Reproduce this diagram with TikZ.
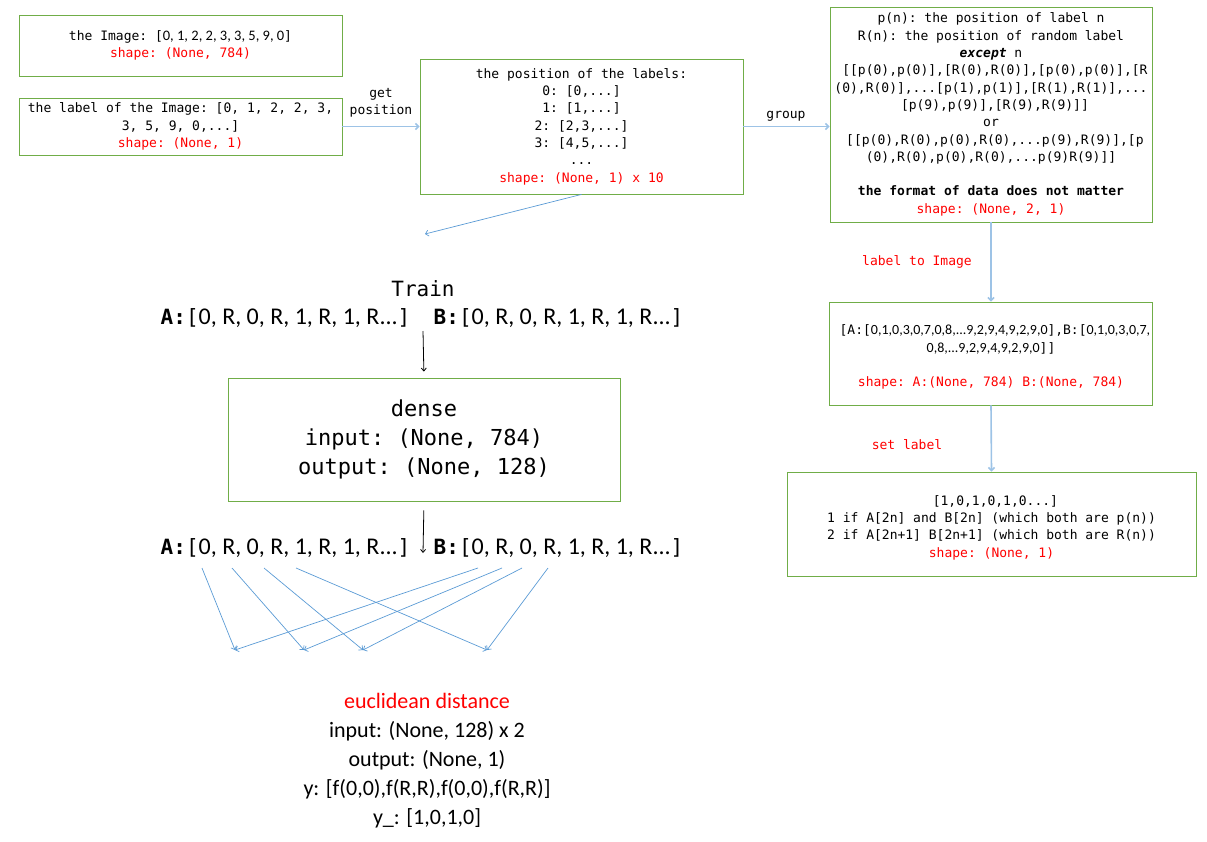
\documentclass[tikz,border=0pt]{standalone}
\usepackage{fontspec}
\setmonofont{DejaVu Sans Mono}
\newfontfamily\calfont{Carlito}
\usetikzlibrary{arrows.meta}
\definecolor{boxgreen}{HTML}{70AD47}
\definecolor{flowblue}{HTML}{9DC3E6}
\definecolor{linkblue}{HTML}{5B9BD5}
\definecolor{shapered}{HTML}{FF0000}
\newcommand{\shapeline}[1]{\textcolor{shapered}{shape: #1}}
\newcommand{\digits}[1]{{\calfont\fontsize{14.5}{17.3}\selectfont #1}}
\newcommand{\pairrow}[1]{{\ttfamily\bfseries\fontsize{21}{25}\selectfont #1:}{\ttfamily\fontsize{21}{25}\selectfont[}{\calfont\fontsize{24}{28}\selectfont 0, R, 0, R, 1, R, 1, R...}{\ttfamily\fontsize{21}{25}\selectfont]}}

\begin{document}
\begin{tikzpicture}[x=1pt, y=-1pt]
    % Define styles
    \tikzset{
        databox/.style={draw=boxgreen, line width=0.8pt, align=center, inner sep=2pt, font=\ttfamily\fontsize{13}{17.3}\selectfont},
        steplabel/.style={align=center, font=\ttfamily\fontsize{13}{17.3}\selectfont},
        flow/.style={-{Straight Barb[length=3pt, width=6pt]}, draw=flowblue, line width=1.6pt},
        link/.style={-{Straight Barb[length=3pt, width=6pt]}, draw=linkblue, line width=0.7pt},
        pass/.style={-{Straight Barb[length=3pt, width=5pt]}, draw=black, line width=0.8pt},
        row/.style={inner sep=0pt}
    }
    \useasboundingbox (0,0) rectangle (1207,841);

    % Input data
    \node[databox, minimum width=323pt, minimum height=61pt] (image) at (180.5,45.5)
        {the Image: [\digits{0, 1, 2, 2, 3, 3, 5, 9, 0}]\\ \shapeline{(None, 784)}};
    \node[databox, minimum width=323pt, minimum height=57pt] (label) at (180.5,126.5)
        {the label of the Image: [0, 1, 2, 2, 3,\\ 3, 5, 9, 0,...]\\ \shapeline{(None, 1)}};

    % Positions of the labels
    \node[databox, minimum width=323pt, minimum height=135pt] (position) at (581.5,126.5)
        {the position of the labels:\\ 0: [0,...]\\ 1: [1,...]\\ 2: [2,3,...]\\ 3: [4,5,...]\\ ...\\ \shapeline{(None, 1) x 10}};

    % Grouped pairs
    \node[databox, minimum width=322pt, minimum height=215pt] (group) at (991,114.5)
        {p(n): the position of label n\\
         R(n): the position of random label\\
         \textbf{\textit{except}} n\\{}
         [[p(0),p(0)],[R(0),R(0)],[p(0),p(0)],[R\\
         (0),R(0)],...[p(1),p(1)],[R(1),R(1)],...\\{}
         [p(9),p(9)],[R(9),R(9)]]\\
         or\\{}
         [[p(0),R(0),p(0),R(0),...p(9),R(9)],[p\\
         (0),R(0),p(0),R(0),...p(9)R(9)]]\\
         \mbox{}\\
         \textbf{the format of data does not matter}\\
         \shapeline{(None, 2, 1)}};

    % Image pairs
    \node[databox, minimum width=322pt, minimum height=103pt] (pairs) at (991,353.5)
        {\mbox{}\\{}
         [A:[\digits{\fontsize{14}{17.3}\selectfont 0,1,0,3,0,7,0,8,...9,2,9,4,9,2,9,0}],B:[\digits{\fontsize{14}{17.3}\selectfont 0,1,0,3,0,7,}\\
         \digits{\fontsize{14}{17.3}\selectfont 0,8,...9,2,9,4,9,2,9,0}]]\\
         \mbox{}\\
         \shapeline{A:(None, 784) B:(None, 784)}};

    % Targets
    \node[databox, minimum width=409pt, minimum height=104pt] (target) at (991.5,524)
        {\mbox{}\\{}
         [1,0,1,0,1,0...]\\
         1 if A[2n] and B[2n] (which both are p(n))\\
         2 if A[2n+1] B[2n+1] (which both are R(n))\\
         \shapeline{(None, 1)}};

    % Step labels
    \node[steplabel] (getpos) at (381,103) {get\\position};
    \node[steplabel] (grouplbl) at (786,116) {group};
    \node[steplabel, text=shapered] (toimage) at (917,262) {label to Image};
    \node[steplabel, text=shapered] (setlbl) at (907,445) {set label};

    % Flow arrows
    \draw[flow] (label.east) -- (position.west);
    \draw[flow] (position.east) -- (position.east -| group.west);
    \draw[flow] (group.south) -- (pairs.north);
    \draw[flow] (pairs.south) -- (target.north);
    \coordinate (trainin) at (425,234);
    \draw[link] (position.south) -- (trainin);

    % Train
    \node[font=\ttfamily\fontsize{21}{25}\selectfont] (train) at (423,289) {Train};
    \node[row] (inA) at (285.5,318) {\pairrow{A}};
    \node[row] (inB) at (558.5,318) {\pairrow{B}};

    % Dense layer
    \node[databox, minimum width=392pt, minimum height=123pt, font=\ttfamily\fontsize{22}{29}\selectfont] (dense) at (424,439.5)
        {dense\\ input: (None, 784)\\ output: (None, 128)};
    \coordinate (densein) at (423,331);
    \coordinate (denseout) at (423,553);
    \draw[pass, shorten >=6pt] (densein) -- (dense.north);
    \draw[pass, shorten <=9pt] (dense.south) -- (denseout);

    % Embeddings
    \node[row] (outA) at (285.5,548) {\pairrow{A}};
    \node[row] (outB) at (558.5,548) {\pairrow{B}};

    % Pair links
    \coordinate (a1) at (202,568);
    \coordinate (a2) at (232,568);
    \coordinate (a3) at (264,568);
    \coordinate (a4) at (296,568);
    \coordinate (b1) at (478,568);
    \coordinate (b2) at (502,568);
    \coordinate (b3) at (522,568);
    \coordinate (b4) at (548,568);
    \coordinate (e1) at (235,650);
    \coordinate (e2) at (304,650);
    \coordinate (e3) at (363,650);
    \coordinate (e4) at (487,650);
    \foreach \i in {1,...,4} {
        \draw[link] (a\i) -- (e\i);
        \draw[link] (b\i) -- (e\i);
    }

    % Distance
    \node[align=center, font=\calfont\fontsize{22}{29}\selectfont] (dist) at (427,760.5)
        {\textcolor{shapered}{euclidean distance}\\
         input: (None, 128) x 2\\
         output: (None, 1)\\
         y: [f(0,0),f(R,R),f(0,0),f(R,R)]\\
         y\_: [1,0,1,0]};
\end{tikzpicture}
\end{document}
